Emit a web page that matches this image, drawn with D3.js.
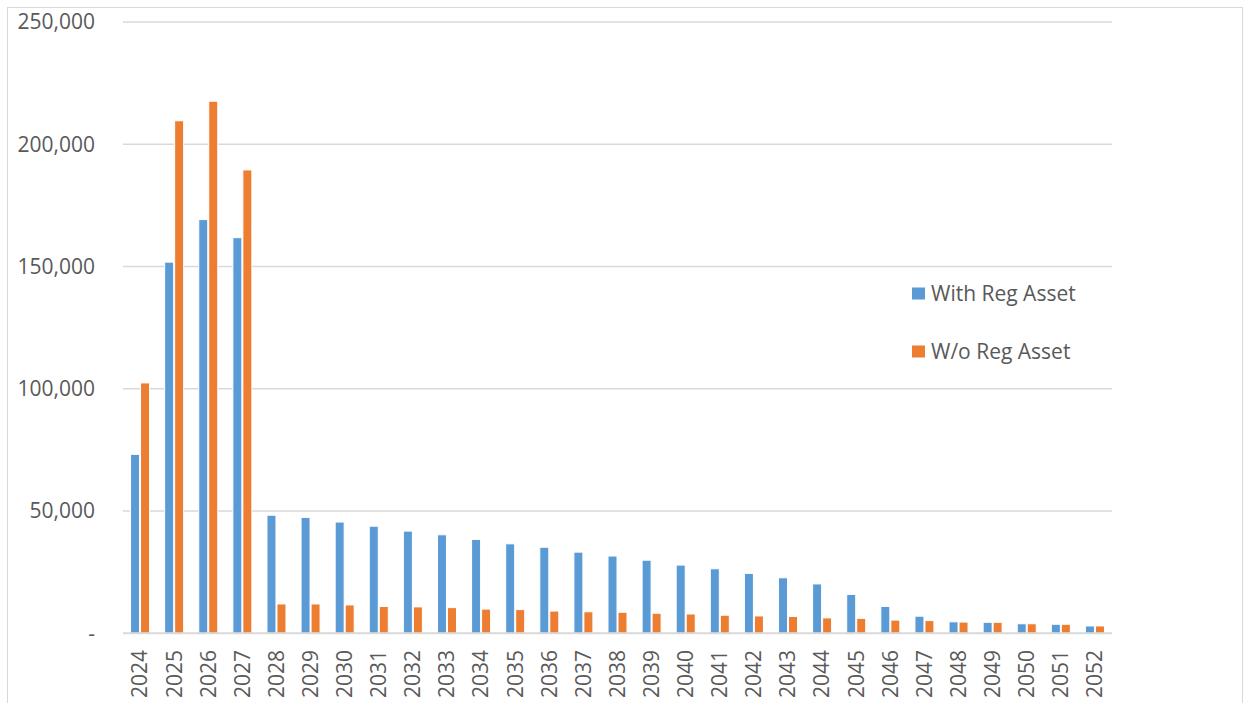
<!DOCTYPE html>
<html>
<head>
<meta charset="utf-8">
<script src="https://cdn.jsdelivr.net/npm/d3@7"></script>
<style>
  html, body { margin: 0; padding: 0; background: #fff; }
  svg { display: block; }
  text { font-family: "Open Sans", "Liberation Sans", sans-serif; fill: #595959; }
</style>
</head>
<body>
<svg id="chart" width="1244" height="703"></svg>
<script>
// Years on the category axis
const years = [
  "2024","2025","2026","2027","2028","2029","2030","2031","2032","2033",
  "2034","2035","2036","2037","2038","2039","2040","2041","2042","2043",
  "2044","2045","2046","2047","2048","2049","2050","2051","2052"
];

// Series values
const withRegAsset = [
  73200, 151800, 169200, 161800, 48300, 47400, 45500, 43800, 41800, 40300,
  38400, 36600, 35200, 33200, 31600, 29900, 27900, 26400, 24500, 22700,
  20200, 15900, 11000, 7000, 4700, 4500, 3900, 3700, 3000
];
const withoutRegAsset = [
  102400, 209600, 217600, 189500, 12000, 12000, 11600, 11000, 10800, 10500,
  9900, 9700, 9100, 8800, 8600, 8200, 7900, 7400, 7100, 6900,
  6300, 6100, 5400, 5200, 4600, 4500, 3900, 3700, 3000
];

const seriesNames = ["With Reg Asset", "W/o Reg Asset"];
const seriesColors = ["#5B9BD5", "#ED7D31"];
const yTicks = [0, 50000, 100000, 150000, 200000, 250000];

const svg = d3.select("#chart");

// Outer chart frame
svg.append("rect")
  .attr("x", 7.5).attr("y", 7.5)
  .attr("width", 1235).attr("height", 700)
  .attr("fill", "none").attr("stroke", "#D9D9D9").attr("stroke-width", 1);

const plot = { left: 123, right: 1112, top: 22, bottom: 633.3 };

const x = d3.scaleBand().domain(years).range([plot.left, plot.right]).padding(0);
const y = d3.scaleLinear().domain([0, 250000]).range([plot.bottom, plot.top]);

// Horizontal gridlines
svg.append("g")
  .selectAll("line")
  .data(yTicks.filter(d => d > 0))
  .join("line")
  .attr("x1", plot.left).attr("x2", plot.right)
  .attr("y1", d => y(d)).attr("y2", d => y(d))
  .attr("stroke", "#D9D9D9").attr("stroke-width", 1.5);

// Y axis labels
const fmt = d3.format(",");
svg.append("g")
  .selectAll("text")
  .data(yTicks)
  .join("text")
  .attr("x", 95)
  .attr("y", d => y(d))
  .attr("dy", "0.35em")
  .attr("text-anchor", "end")
  .style("font-size", "21px")
  .text(d => d === 0 ? "-" : fmt(d));

// Bars
const barW = 9;
const series = [withRegAsset, withoutRegAsset];
series.forEach((vals, si) => {
  svg.append("g")
    .selectAll("rect")
    .data(vals)
    .join("rect")
    .attr("x", (d, i) => x(years[i]) + x.bandwidth() / 2 + (si === 0 ? -barW - 0.5 : 0.5))
    .attr("y", d => y(d))
    .attr("width", barW)
    .attr("height", d => y(0) - y(d))
    .attr("fill", seriesColors[si])
    .attr("stroke", "#fff")
    .attr("stroke-width", 1);
});

// Category axis line
svg.append("line")
  .attr("x1", plot.left).attr("x2", plot.right)
  .attr("y1", y(0)).attr("y2", y(0))
  .attr("stroke", "#D9D9D9").attr("stroke-width", 2);

// Rotated year labels
svg.append("g")
  .selectAll("text")
  .data(years)
  .join("text")
  .attr("transform", d => `translate(${x(d) + x.bandwidth() / 2},650) rotate(-90)`)
  .attr("dy", "0.35em")
  .attr("text-anchor", "end")
  .style("font-size", "21px")
  .text(d => d);

// Legend
const legend = svg.append("g");
const legendRows = [293.5, 351.5];
seriesNames.forEach((name, i) => {
  legend.append("rect")
    .attr("x", 912).attr("y", legendRows[i] - 6)
    .attr("width", 13).attr("height", 12)
    .attr("fill", seriesColors[i]);
  legend.append("text")
    .attr("x", 931)
    .attr("y", legendRows[i])
    .attr("dy", "0.35em")
    .style("font-size", "21px")
    .text(name);
});
</script>
</body>
</html>
